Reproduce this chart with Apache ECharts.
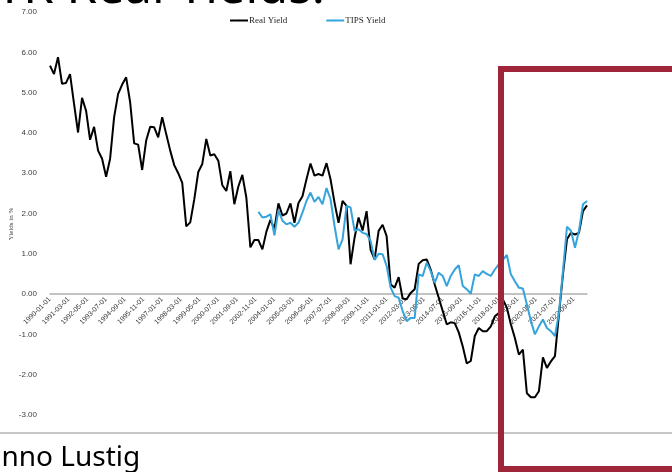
<!DOCTYPE html>
<html>
<head>
<meta charset="utf-8">
<script src="https://cdn.jsdelivr.net/npm/echarts@6/dist/echarts.min.js"></script>
<style>
  html, body { margin: 0; padding: 0; background: #ffffff; }
  #chart { width: 672px; height: 472px; }
</style>
</head>
<body>
<div id="chart"></div>
<script>
// Quarterly observations, first and last observation dates
const firstDate = '1990-01-01';
const lastDate = '2023-07-01';

// Real yield (%), quarterly from 1990-01
const realYield = [
  5.67, 5.46, 5.88, 5.22, 5.24, 5.46, 4.72, 4.01, 4.87, 4.55,
  3.83, 4.15, 3.56, 3.36, 2.91, 3.36, 4.39, 4.97, 5.20, 5.38,
  4.76, 3.74, 3.71, 3.08, 3.81, 4.15, 4.14, 3.89, 4.39, 3.97,
  3.56, 3.20, 3.00, 2.76, 1.68, 1.78, 2.35, 3.03, 3.23, 3.85,
  3.44, 3.47, 3.31, 2.70, 2.56, 3.05, 2.23, 2.67, 2.96, 2.39,
  1.16, 1.34, 1.34, 1.11, 1.55, 1.84, 1.62, 2.25, 1.95, 2.00,
  2.25, 1.77, 2.26, 2.43, 2.85, 3.24, 2.94, 2.98, 2.94, 3.25,
  2.85, 2.27, 1.77, 2.31, 2.19, 0.74, 1.40, 1.90, 1.58, 2.06,
  1.10, 0.86, 1.57, 1.72, 1.44, 0.24, 0.16, 0.42, -0.11, -0.13,
  0.03, 0.12, 0.75, 0.84, 0.86, 0.61, 0.24, -0.09, -0.42, -0.75,
  -0.70, -0.72, -0.95, -1.30, -1.72, -1.66, -1.04, -0.84, -0.92, -0.92,
  -0.80, -0.55, -0.47, -0.13, -0.34, -0.75, -1.09, -1.50, -1.38, -2.46,
  -2.56, -2.56, -2.41, -1.57, -1.83, -1.67, -1.54, -0.50, 0.49, 1.36,
  1.52, 1.48, 1.52, 2.06, 2.20
];

// TIPS yield (%), quarterly from 2003-01
const tipsStart = '2003-01-01';
const tipsYield = [
  2.04, 1.90, 1.92, 1.98, 1.46, 2.08, 1.82, 1.73, 1.77, 1.67,
  1.77, 2.02, 2.31, 2.52, 2.29, 2.41, 2.23, 2.63, 2.36, 1.69,
  1.11, 1.36, 2.19, 2.15, 1.57, 1.61, 1.52, 1.49, 1.32, 0.85,
  1.00, 0.99, 0.70, 0.16, -0.05, -0.09, -0.42, -0.67, -0.59, -0.59,
  0.49, 0.45, 0.78, 0.57, 0.28, 0.53, 0.45, 0.20, 0.45, 0.61,
  0.72, 0.20, 0.12, 0.01, 0.49, 0.45, 0.57, 0.50, 0.45, 0.61,
  0.74, 0.85, 0.97, 0.49, 0.32, 0.16, 0.14, -0.26, -0.67, -1.00,
  -0.80, -0.63, -0.84, -0.92, -1.04, -0.47, 0.57, 1.67, 1.57, 1.15,
  1.57, 2.23, 2.31
];

// Date labels shown on the horizontal axis
const tickLabels = [
  '1990-01-01', '1991-03-01', '1992-05-01', '1993-07-01', '1994-09-01',
  '1995-11-01', '1997-01-01', '1998-03-01', '1999-05-01', '2000-07-01',
  '2001-09-01', '2002-11-01', '2004-01-01', '2005-03-01', '2006-05-01',
  '2007-07-01', '2008-09-01', '2009-11-01', '2011-01-01', '2012-03-01',
  '2013-05-01', '2014-07-01', '2015-09-01', '2016-11-01', '2018-01-01',
  '2019-03-01', '2020-05-01', '2021-07-01', '2022-09-01'
];

const seriesNames = ['Real Yield', 'TIPS Yield'];

// Vertical range of the plot
const yMin = -3;
const yMax = 7;

// Months elapsed since the first observation
function monthIndex(s) {
  const p = s.split('-').map(Number);
  const b = firstDate.split('-').map(Number);
  return (p[0] - b[0]) * 12 + (p[1] - b[1]);
}

// Pair each quarterly value with its month position
function quarterly(values, start) {
  const m0 = monthIndex(start);
  return values.map((v, i) => [m0 + i * 3, v]);
}

const labelByMonth = {};
tickLabels.forEach(s => { labelByMonth[monthIndex(s)] = s; });

const W = 672, H = 472;
const grid = { left: 50, right: 85, top: 12, bottom: 57 };
// Lift the date axis (line and labels) from the grid bottom up to the zero level
const plotH = H - grid.top - grid.bottom;
const zeroLift = plotH * (0 - yMin) / (yMax - yMin);

const chart = echarts.init(document.getElementById('chart'), null, { renderer: 'canvas' });

chart.setOption({
  animation: false,
  backgroundColor: '#ffffff',
  grid: Object.assign({ containLabel: false, outerBoundsMode: 'none' }, grid),
  legend: {
    data: seriesNames,
    left: 229,
    top: 16,
    padding: 0,
    itemWidth: 18,
    itemHeight: 2,
    itemGap: 38,
    textStyle: { fontFamily: 'Liberation Serif', fontSize: 9, color: '#262626', padding: [0, 0, 0, -4] }
  },
  xAxis: {
    type: 'value',
    min: 0,
    max: monthIndex(lastDate),
    offset: -zeroLift,
    axisLine: { show: true, onZero: false, lineStyle: { color: '#b0b0b0', width: 1.5 } },
    axisTick: { show: false },
    splitLine: { show: false },
    axisLabel: {
      customValues: tickLabels.map(monthIndex),
      formatter: v => labelByMonth[v] || '',
      rotate: 45,
      margin: 4,
      fontFamily: 'Liberation Sans',
      fontSize: 7,
      color: '#333333'
    }
  },
  yAxis: {
    type: 'value',
    min: yMin,
    max: yMax,
    interval: 1,
    axisLine: { show: false },
    axisTick: { show: false },
    splitLine: { show: false },
    axisLabel: {
      formatter: v => v.toFixed(2),
      margin: 13,
      fontFamily: 'Liberation Sans',
      fontSize: 8,
      color: '#404040'
    }
  },
  series: [
    {
      name: seriesNames[0],
      type: 'line',
      data: quarterly(realYield, firstDate),
      symbol: 'none',
      lineStyle: { color: '#000000', width: 2 },
      itemStyle: { color: '#000000' }
    },
    {
      name: seriesNames[1],
      type: 'line',
      data: quarterly(tipsYield, tipsStart),
      symbol: 'none',
      lineStyle: { color: '#35a4dc', width: 2 },
      itemStyle: { color: '#35a4dc' }
    }
  ],
  graphic: [
    {
      // vertical axis title
      type: 'text',
      x: 11,
      y: 224,
      rotation: Math.PI / 2,
      z: 50,
      style: {
        text: 'Yields in %',
        font: '7px "Liberation Serif"',
        fill: '#404040',
        align: 'center',
        verticalAlign: 'middle'
      }
    },
    {
      type: 'text',
      x: -4,
      y: -11,
      z: 50,
      style: {
        text: 'TR Real Yields:',
        font: '49px "Noto Sans"',
        fill: '#000000',
        verticalAlign: 'middle'
      }
    },
    {
      type: 'line',
      z: 50,
      shape: { x1: 0, y1: 433, x2: W, y2: 433 },
      style: { stroke: '#c8c8c8', lineWidth: 2 }
    },
    {
      type: 'text',
      x: -35,
      y: 458,
      z: 50,
      style: {
        text: 'Hanno Lustig',
        font: '28px "Noto Sans"',
        fill: '#000000',
        verticalAlign: 'middle'
      }
    },
    {
      type: 'rect',
      z: 100,
      shape: { x: 501, y: 69, width: 200, height: 400 },
      style: { fill: 'none', stroke: '#9e2638', lineWidth: 6 }
    }
  ]
});
</script>
</body>
</html>
